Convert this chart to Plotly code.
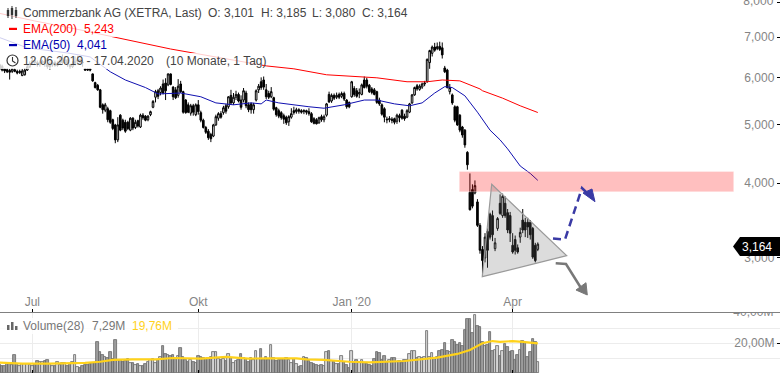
import plotly.graph_objects as go
from plotly.subplots import make_subplots

W, H = 780, 373

opens = [
 6.30,6.26,6.20,6.18,6.16,6.14,6.18,6.14,6.11,6.04,
 6.06,6.17,6.25,6.33,6.40,6.35,6.30,6.35,6.38,6.32,
 6.25,6.30,6.35,6.28,6.33,6.40,6.35,6.42,6.30,6.25,
 6.32,6.38,6.42,6.36,6.20,6.20,6.20,6.08,5.88,5.82,
 5.72,5.40,5.29,5.32,5.28,5.10,5.00,4.72,5.19,5.09,
 5.05,5.05,4.90,5.13,4.95,5.08,4.96,5.19,5.17,5.10,
 5.20,5.35,5.56,5.70,5.66,5.85,5.87,5.83,6.08,5.78,
 5.72,5.60,5.85,5.68,5.50,5.40,5.23,5.38,5.20,5.40,
 5.24,5.09,4.95,4.88,4.82,4.79,5.00,5.13,5.22,5.24,
 5.38,5.36,5.60,5.44,5.56,5.62,5.50,5.50,5.65,5.40,
 5.42,5.30,5.50,5.72,5.90,5.94,5.72,5.64,5.57,5.55,
 5.34,5.28,5.24,5.18,5.15,5.06,5.15,5.28,5.26,5.30,
 5.28,5.26,5.28,5.26,5.22,5.12,5.10,5.04,5.16,5.10,
 5.19,5.62,5.48,5.60,5.56,5.62,5.58,5.64,5.50,5.45,
 5.57,5.75,5.70,5.63,5.62,5.94,5.94,5.82,5.74,5.72,
 5.68,5.50,5.40,5.32,5.11,5.10,5.11,5.12,5.07,5.18,
 5.29,5.17,5.15,5.25,5.44,5.61,5.81,5.73,5.78,5.85,
 5.90,6.35,6.58,6.74,6.70,6.76,6.72,6.22,6.17,5.68,
 5.61,5.36,5.36,5.19,4.96,4.90,4.50,3.86,3.90,3.85,
 3.72,3.40,3.10,3.00,3.32,3.55,3.53,3.11,3.36,3.70,
 3.53,3.70,3.57,3.53,3.15,3.22,3.12,3.25,3.47,3.44,
 3.44,3.44,3.36,3.15,3.101]
closes = [
 6.20,6.17,6.15,6.13,6.12,6.20,6.14,6.10,6.14,6.15,
 6.17,6.25,6.33,6.40,6.35,6.30,6.35,6.38,6.32,6.25,
 6.30,6.35,6.28,6.33,6.40,6.35,6.42,6.30,6.25,6.32,
 6.38,6.42,6.36,6.35,6.17,6.17,6.17,5.92,5.77,5.72,
 5.35,5.30,5.40,5.10,5.05,4.93,4.72,5.00,4.90,4.94,
 4.88,4.93,5.13,4.94,5.05,4.98,5.19,5.14,5.09,5.17,
 5.26,5.47,5.68,5.58,5.76,5.65,5.70,6.08,5.84,5.57,
 5.55,5.80,5.68,5.25,5.24,5.25,5.38,5.25,5.40,5.26,
 5.09,4.95,4.86,4.76,4.74,5.00,5.16,5.22,5.15,5.34,
 5.27,5.57,5.44,5.56,5.62,5.48,5.35,5.70,5.38,5.30,
 5.30,5.40,5.70,5.80,5.77,5.78,5.57,5.56,5.68,5.31,
 5.20,5.17,5.14,5.11,5.04,5.16,5.22,5.24,5.30,5.27,
 5.25,5.28,5.25,5.22,5.06,5.03,5.02,5.14,5.10,5.16,
 5.42,5.46,5.60,5.54,5.60,5.56,5.64,5.52,5.36,5.36,
 5.90,5.62,5.58,5.66,5.83,5.77,5.80,5.68,5.66,5.62,
 5.45,5.42,5.21,5.15,5.10,5.12,5.09,5.05,5.19,5.14,
 5.13,5.12,5.28,5.42,5.61,5.77,5.74,5.80,5.85,5.87,
 6.43,6.65,6.74,6.66,6.75,6.68,6.54,6.13,5.77,5.77,
 5.44,5.09,5.00,4.90,4.81,4.63,4.29,3.61,3.66,3.96,
 3.40,3.09,2.97,3.25,3.09,3.25,3.28,3.18,3.49,3.56,
 3.80,3.53,3.34,3.30,3.07,3.09,3.07,3.31,3.34,3.34,
 3.38,3.28,3.01,2.97,3.164]
highs = [
 6.33,6.30,6.22,6.22,6.20,6.22,6.22,6.18,6.18,6.20,
 6.22,6.30,6.38,6.48,6.45,6.40,6.40,6.42,6.50,6.36,
 6.38,6.40,6.40,6.38,6.48,6.55,6.50,6.45,6.32,6.38,
 6.50,6.52,6.45,6.40,6.22,6.22,6.22,6.09,5.90,5.85,
 5.74,5.43,5.44,5.36,5.30,5.12,5.02,5.15,5.21,5.12,
 5.10,5.08,5.15,5.15,5.10,5.10,5.22,5.23,5.19,5.19,
 5.28,5.50,5.72,5.74,5.80,5.95,5.98,6.09,6.09,5.80,
 5.78,5.96,5.92,5.70,5.52,5.45,5.42,5.42,5.43,5.50,
 5.28,5.12,4.98,4.92,4.85,5.02,5.20,5.25,5.27,5.38,
 5.42,5.58,5.72,5.65,5.70,5.66,5.60,5.76,5.70,5.45,
 5.45,5.44,5.73,5.85,6.00,6.02,5.85,5.70,5.78,5.57,
 5.36,5.32,5.27,5.22,5.18,5.19,5.33,5.36,5.34,5.33,
 5.31,5.31,5.30,5.33,5.25,5.15,5.13,5.16,5.20,5.20,
 5.44,5.68,5.64,5.64,5.66,5.66,5.68,5.68,5.52,5.47,
 5.92,5.80,5.76,5.75,5.86,6.02,5.99,5.85,5.78,5.76,
 5.70,5.55,5.43,5.35,5.16,5.17,5.15,5.14,5.22,5.22,
 5.31,5.22,5.31,5.44,5.63,5.79,5.85,5.84,5.88,5.92,
 6.45,6.67,6.78,6.85,6.86,6.88,6.86,6.27,6.20,5.85,
 5.64,5.39,5.38,5.21,4.98,4.92,4.52,4.15,3.98,4.04,
 3.76,3.43,3.14,3.30,3.36,3.57,3.60,3.24,3.51,3.83,
 3.84,3.80,3.62,3.58,3.30,3.27,3.16,3.37,3.62,3.50,
 3.50,3.47,3.38,3.18,3.185]
lows = [
 6.18,6.14,6.10,6.10,5.95,6.10,6.12,6.07,6.08,6.03,
 6.04,6.15,6.22,6.30,6.30,6.25,6.25,6.32,6.25,6.20,
 6.18,6.25,6.25,6.25,6.30,6.30,6.30,6.25,6.20,6.22,
 6.28,6.30,6.30,6.25,6.15,6.15,6.14,5.90,5.75,5.70,
 5.33,5.22,5.25,5.05,5.02,4.90,4.66,4.68,4.88,4.90,
 4.85,4.90,4.88,4.90,4.92,4.95,4.94,5.10,5.07,5.07,
 5.17,5.33,5.45,5.52,5.60,5.62,5.50,5.80,5.82,5.50,
 5.52,5.55,5.65,5.22,5.22,5.23,5.18,5.18,5.17,5.20,
 5.05,4.93,4.83,4.72,4.68,4.77,4.98,5.08,5.12,5.20,
 5.22,5.32,5.40,5.40,5.50,5.45,5.30,5.45,5.33,5.25,
 5.22,5.22,5.47,5.65,5.72,5.72,5.52,5.52,5.54,5.28,
 5.16,5.13,5.10,5.02,5.00,4.98,5.12,5.20,5.22,5.22,
 5.22,5.21,5.20,5.18,5.04,5.01,5.01,5.02,5.06,5.05,
 5.16,5.44,5.44,5.50,5.52,5.52,5.54,5.48,5.32,5.33,
 5.55,5.57,5.55,5.54,5.60,5.75,5.75,5.65,5.62,5.60,
 5.42,5.38,5.18,5.05,5.03,5.05,5.03,5.01,5.02,5.05,
 5.10,5.08,5.13,5.23,5.42,5.59,5.70,5.70,5.74,5.80,
 5.88,6.20,6.50,6.62,6.66,6.64,6.45,6.10,5.75,5.62,
 5.40,5.05,4.98,4.86,4.76,4.58,4.21,3.60,3.63,3.83,
 3.38,3.05,2.80,2.95,2.89,3.22,3.20,3.08,3.33,3.54,
 3.50,3.50,3.30,3.19,3.05,3.04,3.05,3.18,3.30,3.25,
 3.24,3.22,2.99,2.95,3.080]
volumes = [
 5.2,4.6,5.0,6.4,6.0,5.5,11.8,6.2,4.6,6.0,
 5.8,6.2,5.2,4.8,6.0,7.8,7.2,7.6,7.8,8.6,
 6.2,5.0,4.6,7.6,5.4,6.4,6.8,4.4,5.8,7.4,
 12.0,3.8,3.1,5.0,5.6,5.2,5.8,7.0,6.4,20.4,
 14.2,12.0,10.4,10.0,13.8,9.2,22.0,9.0,8.6,7.6,
 8.0,9.6,7.0,6.8,5.6,6.0,5.0,4.4,5.8,7.4,
 8.8,9.4,6.8,8.4,10.4,18.0,13.0,12.0,11.2,12.0,
 9.6,11.6,17.0,10.6,8.4,7.6,9.0,7.4,7.0,11.2,
 10.6,9.8,9.4,10.0,10.8,13.8,13.8,9.2,8.8,9.6,
 8.2,12.6,10.2,6.8,7.8,9.0,12.6,10.0,9.6,7.2,
 9.8,8.8,14.4,9.4,15.8,9.0,10.6,9.0,18.7,9.8,
 8.0,8.4,8.8,9.4,10.0,8.9,6.5,9.3,6.2,3.7,
 5.0,10.4,10.0,7.7,6.8,6.0,5.3,4.9,5.6,5.0,
 14.2,14.7,8.0,7.5,6.0,6.0,11.3,7.4,5.2,3.5,
 15.0,7.0,8.4,7.4,8.9,7.0,5.8,5.5,5.0,9.5,
 14.0,13.5,9.0,11.5,7.4,9.0,9.8,9.8,7.6,8.2,
 7.0,8.5,8.5,13.0,14.5,14.4,10.0,10.6,10.0,11.0,
 27.8,10.8,13.3,9.5,11.0,14.8,15.4,20.2,15.0,13.8,
 22.0,20.5,19.0,20.0,18.0,28.7,35.8,35.8,27.0,38.7,
 31.5,31.0,21.0,18.0,19.0,27.3,15.0,15.5,18.0,11.5,
 14.5,19.5,17.5,14.0,14.5,8.5,12.0,15.5,21.5,20.0,
 11.0,14.0,22.5,21.0,7.29]

ema200_idx = [0,14,32,53,68,84,106,117,130,150,162,170,176,183,187,191,192,200,207,214]
ema200_val = [7.67,7.45,7.20,6.90,6.69,6.51,6.27,6.20,6.06,5.99,5.90,5.90,5.94,5.92,5.83,5.74,5.70,5.54,5.38,5.243]
ema50_idx = [0,11,27,36,44,50,58,63,72,80,86,93,100,104,106,111,123,129,137,145,150,157,163,168,173,177,180,185,190,195,199,202,207,211,214]
ema50_val = [6.99,6.72,6.59,6.49,6.13,5.94,5.77,5.63,5.65,5.57,5.44,5.40,5.44,5.42,5.50,5.44,5.36,5.33,5.40,5.50,5.50,5.42,5.38,5.44,5.65,5.79,5.77,5.59,5.25,4.90,4.72,4.56,4.27,4.15,4.041]
volma_idx = [0,9,20,27,34,40,45,53,62,69,80,90,99,107,118,122,129,139,147,161,174,182,187,192,196,199,204,208,214]
volma_val = [6.9,6.2,6.2,6.4,6.7,7.5,8.7,9.1,9.1,10.0,9.6,10.7,9.6,9.8,9.8,9.1,8.7,7.5,7.1,8.0,10.2,12.7,15.3,19.8,21.3,20.7,21.3,20.7,19.76]

month_idx = [13, 79, 140, 204]
month_labels = ["Jul", "Okt", "Jan '20", "Apr"]
price_ticks = [3, 4, 5, 6, 7, 8]
volume_ticks = [20, 40]
volume_labels = ["20,00M", "40,00M"]
volume_grid = [10, 20, 30]

assert len(opens) == len(closes) == len(highs) == len(lows) == len(volumes) == 215, (len(opens), len(closes), len(highs), len(lows), len(volumes))

FONT = "Liberation Sans"
GREY = "#858585"
days = list(range(215))
px_day = 2.515
x_range = [0.4 / px_day, (780 + 0.4) / px_day]
edge_label_x = (773.4 + 0.4) / px_day

fig = make_subplots(rows=2, cols=1, shared_xaxes=False, vertical_spacing=0,
                    specs=[[{}], [{}]])
fig.add_trace(go.Candlestick(x=days, open=opens, high=highs, low=lows, close=closes,
                             whiskerwidth=0,
                             increasing=dict(line=dict(color="black", width=1), fillcolor="white"),
                             decreasing=dict(line=dict(color="black", width=1), fillcolor="black"),
                             hoverinfo="skip", showlegend=False), row=1, col=1)
fig.add_trace(go.Scatter(x=ema200_idx, y=ema200_val, mode="lines", line=dict(color="#ff0000", width=1),
                         hoverinfo="skip", showlegend=False), row=1, col=1)
fig.add_trace(go.Scatter(x=ema50_idx, y=ema50_val, mode="lines", line=dict(color="#1010b0", width=1),
                         hoverinfo="skip", showlegend=False), row=1, col=1)
fig.add_trace(go.Scatter(x=[edge_label_x], y=[price_ticks[-1]], mode="text", text=["8,000"],
                         textposition="middle left", cliponaxis=True,
                         textfont=dict(family=FONT, size=12, color=GREY),
                         hoverinfo="skip", showlegend=False), row=1, col=1)
fig.add_trace(go.Bar(x=days, y=volumes,
                     marker=dict(color=["#d4d4d4" if c >= o else "#9c9c9c" for o, c in zip(opens, closes)],
                                 line=dict(color="#666666", width=0.8)),
                     width=1.0, hoverinfo="skip", showlegend=False), row=2, col=1)
fig.add_trace(go.Scatter(x=volma_idx, y=volma_val, mode="lines", line=dict(color="#ffd21a", width=2.2),
                         hoverinfo="skip", showlegend=False), row=2, col=1)
fig.add_trace(go.Scatter(x=[edge_label_x], y=[volume_ticks[-1]], mode="text", text=[volume_labels[-1]],
                         textposition="middle left", cliponaxis=True,
                         textfont=dict(family=FONT, size=12, color=GREY),
                         hoverinfo="skip", showlegend=False), row=2, col=1)

axis_font = dict(family=FONT, size=12, color=GREY)
fig.update_xaxes(range=x_range, showgrid=False, zeroline=False, rangeslider_visible=False,
                 tickvals=month_idx, ticktext=month_labels, ticks="inside", ticklen=3,
                 tickcolor="black", tickfont=axis_font, ticklabelposition="inside",
                 showline=True, linecolor="#808080", linewidth=1, row=1, col=1)
fig.update_xaxes(range=x_range, showgrid=True, gridcolor="#ececec", zeroline=False,
                 tickvals=month_idx, ticktext=[""] * 4, ticks="inside", ticklen=3,
                 tickcolor="black", showline=False, row=2, col=1)
fig.update_yaxes(type="log", range=[0.3871, 0.9071], side="right", showgrid=False, zeroline=False,
                 tickvals=price_ticks, tickformat=".3f", ticks="inside", ticklen=3, tickcolor="black",
                 tickfont=axis_font, ticklabelposition="inside", ticklabelstandoff=2, showline=False, row=1, col=1)
fig.update_yaxes(range=[0, 40], side="right", zeroline=False, showgrid=False,
                 tickvals=volume_ticks, ticktext=volume_labels, ticks="inside", ticklen=3,
                 tickcolor="black", tickfont=axis_font, ticklabelposition="inside", ticklabelstandoff=2, showline=False,
                 minor=dict(tickvals=volume_grid, showgrid=True, gridcolor="#ececec", ticks=""),
                 row=2, col=1)
fig.update_layout(
    width=W, height=H, margin=dict(l=0, r=0, t=0, b=0), paper_bgcolor="white", plot_bgcolor="white",
    separators=",.", bargap=0, boxgap=0.08, showlegend=False, font=dict(family=FONT),
    yaxis=dict(domain=[61 / H, 1]), yaxis2=dict(domain=[0, 60 / H]),
    xaxis=dict(domain=[0, 1]), xaxis2=dict(domain=[0, 1]),
)

def px(x): return x / W
def py(y): return 1 - y / H
def path(points, close=False):
    s = " ".join(("M" if k == 0 else "L") + f" {px(a):.5f} {py(b):.5f}" for k, (a, b) in enumerate(points))
    return s + (" Z" if close else "")
shapes = []
def rect(x0, y0, x1, y1, fill, line=None, opacity=1.0, lw=0):
    shapes.append(dict(type="rect", xref="paper", yref="paper", x0=px(x0), x1=px(x1), y0=py(y0), y1=py(y1),
                       fillcolor=fill, opacity=opacity, line=dict(color=line or fill, width=lw), layer="above"))
def poly(points, fill=None, line=None, lw=0, close=True, dash=None, opacity=1.0):
    shapes.append(dict(type="path", xref="paper", yref="paper", path=path(points, close),
                       fillcolor=fill or "rgba(0,0,0,0)", opacity=opacity,
                       line=dict(color=line or "rgba(0,0,0,0)", width=lw, dash=dash or "solid"), layer="above"))

# support zone, triangle, scenario arrows
rect(459.3, 171.5, 733.7, 191.7, "rgba(255,0,0,0.25)", line="rgba(255,255,255,0.3)", lw=1)
poly([(491.7, 184.3), (566.7, 255.7), (482.3, 276.7)], fill="rgba(110,110,110,0.24)", line="#9a9a9a", lw=1.2)
poly([(553, 238.5), (565, 239.5), (582, 188), (586, 192)], line="#3a3aa5", lw=2.5, close=False, dash="8px,5px")
poly([(583, 193), (592, 189), (595, 201.7)], fill="#3a3aa5", line="#3a3aa5", lw=1)
poly([(555.7, 263.3), (566, 264), (581, 288)], line="#787878", lw=2.5, close=False)
poly([(576, 290), (586, 282.7), (587.3, 295)], fill="#787878", line="#787878", lw=1)

# legend backgrounds
for x1, y0, y1 in [(445, 4, 21), (118, 21, 37), (112, 37, 53), (262, 53, 69)]:
    rect(0, y0, x1, y1, "rgba(255,255,255,0.8)")
rect(0, 318, 178, 334, "rgba(255,255,255,0.85)")

# legend icons
for cx, top, b0, b1, bot in [(8, 8, 10, 16, 18), (12, 6, 8, 15, 19), (16, 7, 10, 16, 18)]:
    poly([(cx, top), (cx, bot)], line="#333333", lw=1, close=False)
    rect(cx - 1.2, b0, cx + 1.2, b1, "#333333")
rect(9, 27.8, 17, 30, "#ff0000")
rect(9, 44, 17, 46.2, "#0000b0")
shapes.append(dict(type="circle", xref="paper", yref="paper", x0=px(7), x1=px(18), y0=py(66), y1=py(55),
                   line=dict(color="#333333", width=1.2), layer="above"))
poly([(12.5, 57), (12.5, 61), (15.5, 63)], line="#333333", lw=1.1, close=False)
rect(7, 325, 9.5, 330, "#666666")
rect(11, 322, 13.5, 330, "#666666")
rect(15, 326, 17.5, 330, "#666666")

# last-price tag
poly([(733, 246.5), (740, 237), (780, 237), (780, 256), (740, 256)], fill="black", line="black", lw=0)
fig.update_layout(shapes=shapes)

def label(x, y, text, color="#444444", size=12):
    fig.add_annotation(xref="paper", yref="paper", x=px(x), y=py(y), text=text, showarrow=False,
                       xanchor="left", yanchor="middle", xshift=0, align="left",
                       font=dict(family=FONT, size=size, color=color), borderpad=0, borderwidth=0)

label(23, 12.5, "Commerzbank AG (XETRA, Last)")
label(208, 12.5, "O: 3,101")
label(260.5, 12.5, "H: 3,185")
label(312, 12.5, "L: 3,080")
label(362, 12.5, "C: 3,164")
label(23, 29, "EMA(200)", "#ff0000")
label(84, 29, "5,243", "#ff0000")
label(23, 45, "EMA(50)", "#0000b0")
label(77, 45, "4,041", "#0000b0")
label(23, 60.5, "12.06.2019 - 17.04.2020")
label(166, 60.5, "(10 Monate, 1 Tag)")
label(23, 325.5, "Volume(28)", "#777777")
label(92, 325.5, "7,29M", "#777777")
label(132, 325.5, "19,76M", "#ffd21a")
label(742, 246.5, "3,164", "white")

fig.write_html("out.html", config={"displayModeBar": False},
               post_script="document.body.style.margin='0';document.body.style.overflow='hidden';")
